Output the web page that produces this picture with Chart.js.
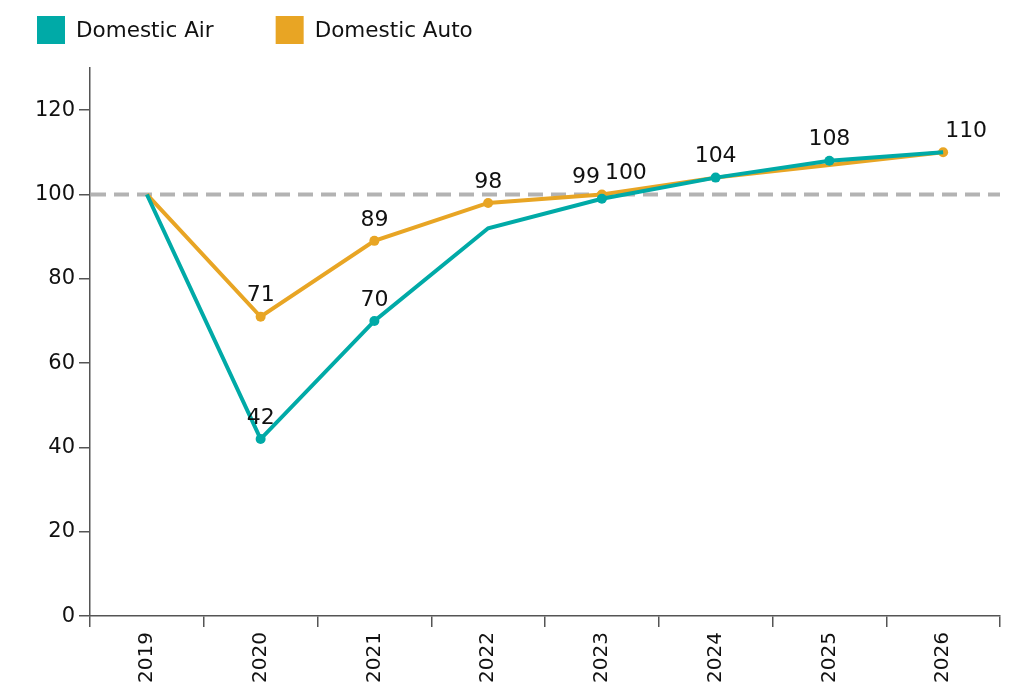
<!DOCTYPE html>
<html>
<head>
<meta charset="utf-8">
<script src="https://cdn.jsdelivr.net/npm/chart.js@4.4.0/dist/chart.umd.min.js"></script>
<style>
  html, body { margin: 0; padding: 0; background: #fff; }
</style>
</head>
<body>
<canvas id="chart" width="1009" height="694"></canvas>
<script>
const years = ["2019", "2020", "2021", "2022", "2023", "2024", "2025", "2026"];
const domesticAir = [100, 42, 70, 92, 99, 104, 108, 110];
const domesticAuto = [100, 71, 89, 98, 100, 104, 107, 110];
const yTicks = [0, 20, 40, 60, 80, 100, 120];
const baseline = 100;

const TEAL = "#00aaa7";
const ORANGE = "#e8a524";
const FONT = "'DejaVu Sans', Verdana, sans-serif";

// which points get a marker + value label, and a sideways nudge for crowded labels
const airRadius = [0, 5, 5, 0, 5, 5, 5, 0];
const autoRadius = [0, 5, 5, 5, 5, 0, 0, 5];
const airLabelDx = [0, 0, 0, 0, -16, 0, 0, 0];
const autoLabelDx = [0, 0, 0, 0, 24, 0, 0, 23];

// dashed reference line at 100
const baselinePlugin = {
    id: "baseline",
    beforeDatasetsDraw(chart) {
        const { ctx, chartArea } = chart;
        const y = chart.scales.y.getPixelForValue(baseline);
        ctx.save();
        ctx.strokeStyle = "#b3b3b3";
        ctx.lineWidth = 4;
        ctx.setLineDash([15, 8]);
        ctx.beginPath();
        ctx.moveTo(chartArea.left + 1, y);
        ctx.lineTo(chartArea.right, y);
        ctx.stroke();
        ctx.restore();
    }
};

// value labels above the marked points
const valueLabels = {
    id: "valueLabels",
    afterDatasetsDraw(chart) {
        const ctx = chart.ctx;
        ctx.save();
        ctx.font = "22px " + FONT;
        ctx.fillStyle = "#111";
        ctx.textAlign = "center";
        ctx.textBaseline = "middle";
        chart.data.datasets.forEach((ds, di) => {
            const meta = chart.getDatasetMeta(di);
            meta.data.forEach((pt, i) => {
                if (!ds.pointRadius[i]) return;
                ctx.fillText(String(ds.data[i]), pt.x + ds.labelDx[i], pt.y - 21);
            });
        });
        ctx.restore();
    }
};

// square legend at the top left
const squareLegend = {
    id: "squareLegend",
    afterDraw(chart) {
        const ctx = chart.ctx;
        ctx.save();
        ctx.font = "21.5px " + FONT;
        ctx.textBaseline = "middle";
        ctx.textAlign = "left";
        let x = 37;
        chart.data.datasets.forEach(ds => {
            ctx.fillStyle = ds.borderColor;
            ctx.fillRect(x, 16, 28, 28);
            ctx.fillStyle = "#111";
            ctx.fillText(ds.label, x + 39, 31);
            x += 39 + ctx.measureText(ds.label).width + 62;
        });
        ctx.restore();
    }
};

new Chart(document.getElementById("chart"), {
    type: "line",
    data: {
        labels: years,
        datasets: [
            {
                label: "Domestic Air",
                data: domesticAir,
                borderColor: TEAL,
                backgroundColor: TEAL,
                borderWidth: 4,
                pointRadius: airRadius,
                pointBorderWidth: 0,
                labelDx: airLabelDx,
                tension: 0
            },
            {
                label: "Domestic Auto",
                data: domesticAuto,
                borderColor: ORANGE,
                backgroundColor: ORANGE,
                borderWidth: 4,
                pointRadius: autoRadius,
                pointBorderWidth: 0,
                labelDx: autoLabelDx,
                tension: 0
            }
        ]
    },
    options: {
        responsive: false,
        animation: false,
        devicePixelRatio: 1,
        layout: { padding: { top: 68, left: 0, right: 9, bottom: 6 } },
        plugins: {
            legend: { display: false },
            tooltip: { enabled: false }
        },
        scales: {
            x: {
                offset: true,
                grid: { offset: true, drawOnChartArea: false, tickLength: 11, color: "#555", lineWidth: 1.5 },
                border: { color: "#555", width: 1.5 },
                ticks: {
                    color: "#111",
                    font: { family: FONT, size: 20 },
                    maxRotation: 90,
                    minRotation: 90,
                    padding: 5
                }
            },
            y: {
                min: 0,
                max: 130,
                afterFit: s => { s.width = 90; },
                afterBuildTicks: s => { s.ticks = yTicks.map(v => ({ value: v })); },
                grid: { drawOnChartArea: false, tickLength: 11, color: "#555", lineWidth: 1.5 },
                border: { color: "#555", width: 1.5 },
                ticks: {
                    color: "#111",
                    font: { family: FONT, size: 21 },
                    padding: 4
                }
            }
        }
    },
    plugins: [baselinePlugin, valueLabels, squareLegend]
});
</script>
</body>
</html>
